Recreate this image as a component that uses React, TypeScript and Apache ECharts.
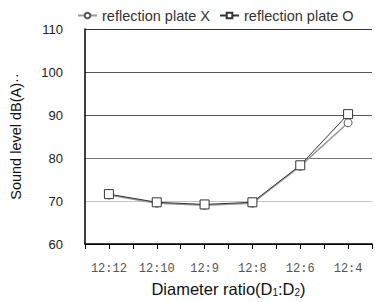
import React, { useEffect, useRef } from "react";
import * as echarts from "echarts";

const categories = ["12:12", "12:10", "12:9", "12:8", "12:6", "12:4"];
const plateX = [71.4, 69.5, 69.0, 69.5, 78.1, 88.2];
const plateO = [71.6, 69.7, 69.2, 69.7, 78.3, 90.2];
const yTicks = { min: 60, max: 110, step: 10 };
const seriesNames = ["reflection plate X", "reflection plate O"];

export default function App() {
  const ref = useRef<HTMLDivElement>(null);
  useEffect(() => {
    const chart = echarts.init(ref.current!, undefined, { renderer: "svg" });
    const toPts = (arr: number[]) => arr.map((v, i) => [i + 0.5, v]);
    chart.setOption({
      animation: false,
      backgroundColor: "#fff",
      legend: {
        left: 72,
        top: 3,
        itemWidth: 19,
        itemHeight: 7,
        itemGap: 9,
        textStyle: { fontFamily: "Liberation Sans", fontSize: 14.5, color: "#333" },
        data: seriesNames,
      },
      grid: { left: 84, top: 29, bottom: 56, width: 300 },
      xAxis: {
        type: "value",
        min: 0,
        max: 6,
        interval: 0.5,
        splitLine: { show: false },
        axisLine: { show: true, lineStyle: { color: "#000", width: 1.5 } },
        axisTick: { show: true, length: 5, lineStyle: { color: "#000" } },
        axisLabel: {
          margin: 19,
          fontFamily: "Liberation Mono",
          fontSize: 12,
          color: "#555",
          formatter: (v: number) => {
            const k = Math.round(v * 2);
            return k % 2 === 1 ? categories[(k - 1) / 2] : "";
          },
        },
        name: "Diameter ratio(D{s|1}:D{s|2})",
        nameLocation: "middle",
        nameGap: 36,
        nameTextStyle: {
          fontFamily: "Liberation Sans",
          fontSize: 16.5,
          color: "#111",
          rich: { s: { fontSize: 10, padding: [7, 0, 0, 0], fontFamily: "Liberation Sans", color: "#111" } },
        },
      },
      yAxis: {
        type: "value",
        min: yTicks.min,
        max: yTicks.max,
        interval: yTicks.step,
        axisLine: { show: true, lineStyle: { color: "#000", width: 1.5 } },
        axisTick: { show: false },
        axisLabel: { margin: 22, fontFamily: "Liberation Sans", fontSize: 13, color: "#222" },
        splitLine: {
          show: true,
          lineStyle: { color: ["#000", "#c4c4c4", "#777", "#555", "#555", "#333"], width: 1 },
        },
        name: "Sound level dB(A)··",
        nameLocation: "middle",
        nameGap: 62,
        nameTextStyle: { fontFamily: "Liberation Sans", fontSize: 14.5, color: "#111" },
      },
      series: [
        {
          name: seriesNames[0],
          type: "line",
          data: toPts(plateX),
          symbol: "circle",
          symbolSize: 8,
          lineStyle: { color: "#999", width: 1.5 },
          itemStyle: { color: "#fff", borderColor: "#555", borderWidth: 1 },
        },
        {
          name: seriesNames[1],
          type: "line",
          data: toPts(plateO),
          symbol: "rect",
          symbolSize: 9,
          lineStyle: { color: "#333", width: 1 },
          itemStyle: { color: "#fff", borderColor: "#333", borderWidth: 1 },
        },
      ],
    });
    return () => chart.dispose();
  }, []);
  return (
    <div
      ref={ref}
      style={{ position: "fixed", left: 0, top: 0, width: 375, height: 302 }}
    />
  );
}
